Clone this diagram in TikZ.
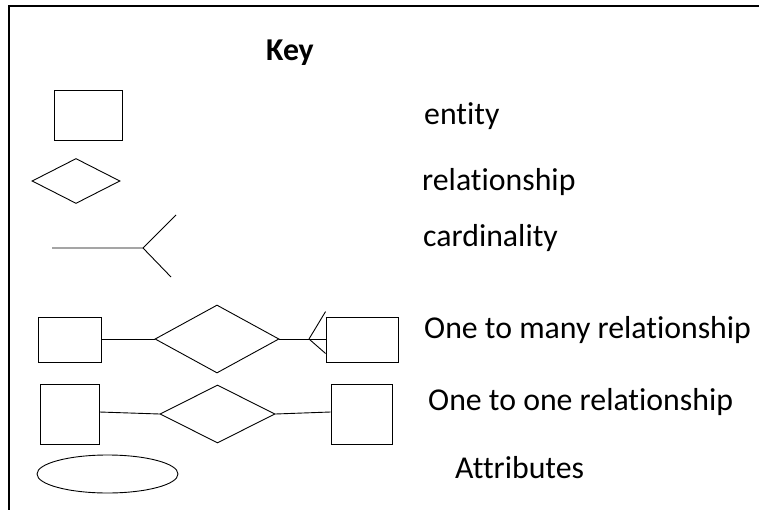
\documentclass[tikz,border=0pt]{standalone}
\usepackage{fontspec}
\setmainfont{Carlito}[Ligatures={NoCommon}]
\usetikzlibrary{shapes.geometric,positioning,calc}

\begin{document}
\begin{tikzpicture}[x=1pt, y=-1pt,
    entity/.style={draw, rectangle, line width=0.9pt, inner sep=0pt, minimum width=#1},
    relation/.style={draw, diamond, line width=0.9pt, inner sep=0pt},
    attrib/.style={draw, ellipse, line width=0.9pt, inner sep=0pt, minimum width=141pt, minimum height=38pt},
    link/.style={draw, line width=0.9pt},
    label/.style={anchor=base west, inner sep=0pt, font=\fontsize{31.8}{38}\selectfont}]
    \useasboundingbox (0,0) rectangle (759,510);
    % frame
    \coordinate (fr_bl) at (9,512);
    \coordinate (fr_tl) at (9,6);
    \coordinate (fr_tr) at (761,6);
    \draw[line width=1.6pt] (fr_bl) -- (fr_tl) -- (fr_tr);
    % Key
    \node[label, font=\fontsize{31.8}{38}\selectfont\bfseries] (key) at (266,61) {Key};
    % Legend: entity
    \node[entity=68pt, minimum height=50pt] (k_ent) at (88,115) {};
    \node[label] (t_ent) at (424,125) {entity};
    % Legend: relationship
    \node[relation, minimum width=88pt, minimum height=45pt] (k_rel) at (76,181) {};
    \node[label] (t_rel) at (422,191) {relationship};
    % Legend: cardinality
    \coordinate (c_start) at (52,248);
    \coordinate (c_fork) at (143,248);
    \coordinate (c_up) at (176,215);
    \coordinate (c_down) at (171,277);
    \draw[link] (c_start) -- (c_fork) -- (c_up);
    \draw[link] (c_fork) -- (c_down);
    \node[label] (t_card) at (423,247) {cardinality};
    % One to many
    \node[entity=63pt, minimum height=45pt] (m_left) at (69.5,339.5) {};
    \node[relation, minimum width=124pt, minimum height=68pt] (m_rel) at (217,339) {};
    \node[entity=72pt, minimum height=45pt] (m_right) at (362,339.5) {};
    \coordinate (m_fork) at (309,339);
    \draw[link] (m_left.east |- m_rel) -- (m_rel.west);
    \draw[link] (m_rel.east) -- (m_right.west |- m_rel);
    \draw[link] (m_fork) -- ($(m_right.north west)+(0,-5)$);
    \draw[link] (m_fork) -- ($(m_right.south west)+(0,-9)$);
    \node[label] (t_many) at (424,338) {One to many relationship};
    % One to one
    \node[entity=59pt, minimum height=60pt] (o_left) at (69.5,414) {};
    \node[relation, minimum width=115pt, minimum height=58pt] (o_rel) at (217.5,414) {};
    \node[entity=61pt, minimum height=60pt] (o_right) at (361.5,414) {};
    \draw[link] ($(o_left.east)+(0,-2)$) -- (o_rel.west);
    \draw[link] (o_rel.east) -- ($(o_right.west)+(0,-2)$);
    \node[label] (t_one) at (428,410) {One to one relationship};
    % Attributes
    \node[attrib] (k_att) at (107.5,474) {};
    \node[label] (t_att) at (455,478) {Attributes};
\end{tikzpicture}
\end{document}
